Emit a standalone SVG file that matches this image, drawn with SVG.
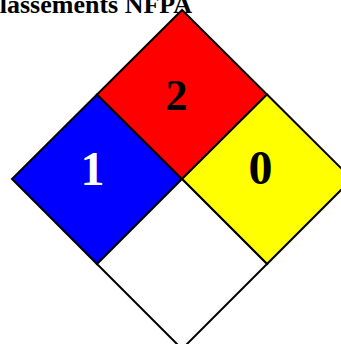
<svg xmlns="http://www.w3.org/2000/svg" width="341" height="344" viewBox="0 0 341 344">
<style>
.q{stroke:#000;stroke-width:2;stroke-linejoin:miter}
.t{font-family:"Liberation Serif","Times New Roman",serif;font-weight:bold}
.n{font-family:"Liberation Serif","Times New Roman",serif;font-weight:bold;text-anchor:middle}
</style>
<rect width="341" height="344" fill="#fff"/>
<text class="t" x="-19" y="13" font-size="26" fill="#000">Classements NFPA</text>
<g id="health">
<polygon class="q" points="97,94.5 12,179 97,264 182,179" fill="#0000FF"/>
<text class="n" x="92.5" y="185" font-size="48" fill="#fff">1</text>
</g>
<g id="flammability">
<polygon class="q" points="182,10 97,94.5 182,179 267,94.5" fill="#FF0000"/>
<text class="n" x="176.5" y="110" font-size="44" fill="#000">2</text>
</g>
<g id="instability">
<polygon class="q" points="267,94.5 182,179 267,264 352,179" fill="#FFFF00"/>
<text class="n" x="260.5" y="184" font-size="48" fill="#000">0</text>
</g>
<g id="special">
<polygon class="q" points="182,179 97,264 182,349 267,264" fill="#fff"/>
</g>
</svg>
